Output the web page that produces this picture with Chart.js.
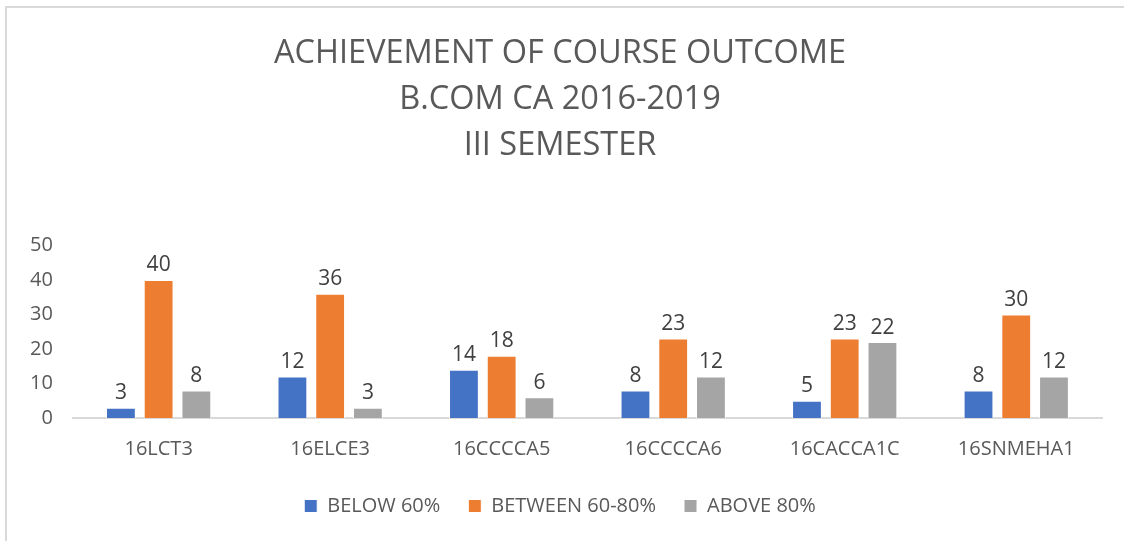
<html>
<head>
<style>
  body { margin: 0; background: #fff; overflow: hidden; }
  #frame { position: absolute; left: 5px; top: 6px; width: 1140px; height: 560px; border: 2px solid #d9d9d9; box-sizing: border-box; }
  #wrap { position: absolute; left: 0; top: 0; width: 1124px; height: 541px; }
</style>
<script src="https://cdn.jsdelivr.net/npm/chart.js"></script>
</head>
<body>
<div id="frame"></div>
<div id="wrap"><canvas id="myChart" width="1124" height="541"></canvas></div>
<script>
  var courses = ['16LCT3', '16ELCE3', '16CCCCA5', '16CCCCA6', '16CACCA1C', '16SNMEHA1'];
  var below60 = [3, 12, 14, 8, 5, 8];
  var between60to80 = [40, 36, 18, 23, 23, 30];
  var above80 = [8, 3, 6, 12, 22, 12];
  var titleLines = ['ACHIEVEMENT OF COURSE OUTCOME', 'B.COM CA 2016-2019', 'III SEMESTER'];

  var fontName = '"Open Sans", sans-serif';
  var grey = '#595959';

  // write the value above each bar
  var valueLabels = {
    id: 'valueLabels',
    afterDatasetsDraw: function(chart) {
      var ctx = chart.ctx;
      ctx.save();
      ctx.font = '21px ' + fontName;
      ctx.fillStyle = '#404040';
      ctx.textAlign = 'center';
      ctx.textBaseline = 'bottom';
      chart.data.datasets.forEach(function(ds, i) {
        chart.getDatasetMeta(i).data.forEach(function(bar, j) {
          ctx.fillText(ds.data[j], bar.x, bar.y - 4);
        });
      });
      ctx.restore();
    }
  };

  const speedCanvas = document.getElementById('myChart');

  let barChart = new Chart(speedCanvas, {
    type: 'bar',
    data: {
      labels: courses,
      datasets: [
        { label: 'BELOW 60%', data: below60, backgroundColor: '#4472C4' },
        { label: 'BETWEEN 60-80%', data: between60to80, backgroundColor: '#ED7D31' },
        { label: 'ABOVE 80%', data: above80, backgroundColor: '#A5A5A5' }
      ]
    },
    options: {
      responsive: false,
      animation: false,
      layout: { padding: { left: 18, right: 22, top: 30, bottom: 15 } },
      datasets: {
        bar: { categoryPercentage: 0.66, barPercentage: 0.79, borderColor: '#ffffff', borderWidth: 1 }
      },
      plugins: {
        title: {
          display: true,
          text: titleLines,
          color: grey,
          font: { family: fontName, size: 32.5, weight: 'normal', lineHeight: 1.43 },
          padding: { top: 0, bottom: 76 }
        },
        legend: {
          position: 'bottom',
          labels: {
            color: grey,
            font: { family: fontName, size: 20 },
            boxWidth: 13,
            boxHeight: 13,
            padding: 28
          }
        },
        tooltip: { enabled: false }
      },
      scales: {
        y: {
          min: 0,
          max: 50,
          ticks: { stepSize: 10, color: grey, font: { family: fontName, size: 20 }, padding: 12 },
          grid: { display: false },
          border: { display: false }
        },
        x: {
          ticks: { color: grey, font: { family: fontName, size: 20 }, padding: 11 },
          grid: { display: false },
          border: { display: true, color: '#d9d9d9', width: 2 },
          afterFit: function(scale) { scale.height -= 4; }
        }
      }
    },
    plugins: [valueLabels]
  });
</script>
</body>
</html>
